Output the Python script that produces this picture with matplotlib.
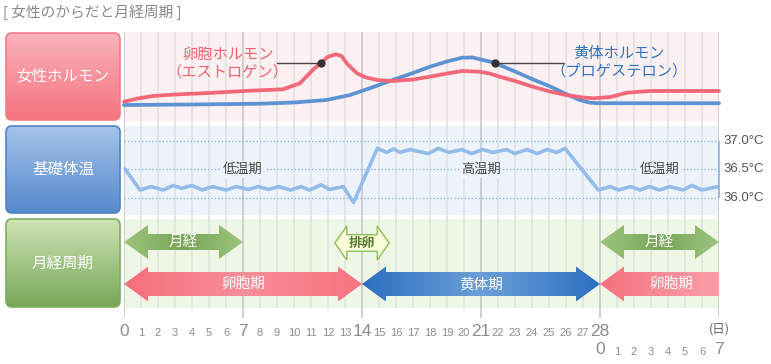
import matplotlib
matplotlib.use("Agg")
import matplotlib.pyplot as plt
import numpy as np
from matplotlib.patches import FancyBboxPatch, Polygon
from matplotlib.colors import LinearSegmentedColormap

plt.rcParams['font.family'] = ['Noto Sans CJK JP', 'DejaVu Sans']

# ---------------- data ----------------
title = "[ 女性のからだと月経周期 ]"
row_labels = ["女性ホルモン", "基礎体温", "月経周期"]

# estrogen (卵胞ホルモン) level, arbitrary units
estro_day = [0, 0.8, 1.7, 3, 5, 7.4, 9.35, 10.35, 11.1, 11.6, 12.0, 12.47, 12.8, 13.1, 13.7,
             14.2, 14.9, 15.8, 17, 18, 19, 19.9, 20.9, 21.5, 22.1, 23, 24, 25.1, 26, 27,
             27.6, 28.6, 29.6, 30.9, 35]
estro_val = [18.3, 21.5, 24, 25.5, 27, 29.3, 30.7, 36.7, 50, 57.3, 63.3, 65.7, 64, 56.7, 46.7,
             42.7, 40, 39, 40.5, 43.3, 46.5, 49, 48.3, 46.5, 43.3, 39, 33.5, 28.3, 25, 22.5,
             21.7, 23, 27.3, 29, 29]
# progesterone (黄体ホルモン) level
proge_day = [0, 4, 8, 10, 11.9, 13.3, 14.5, 15.8, 17, 18, 19, 19.9, 20.5, 21.1, 21.8, 22.1,
             23, 24, 25.1, 26, 26.8, 27.4, 28, 35]
proge_val = [15, 15.5, 16.3, 17.5, 20, 25, 32, 40, 47, 53.3, 58.5, 62.3, 62.5, 60, 57.3, 55,
             48.5, 41, 33.3, 26, 20, 17.3, 16.8, 16.8]
estro_mark = (11.6, 57.3)
proge_mark = (21.8, 57.3)

# basal body temperature
temp_day = [0.06, 0.94, 1.6, 2.3, 2.9, 3.4, 4.0, 4.6, 5.2, 6.0, 6.6, 7.3, 7.9, 8.5, 9.1, 9.8,
            10.4, 10.9, 11.6, 12.1, 12.9, 13.5, 14.9, 15.45, 15.85, 16.24, 16.82, 17.9, 18.5,
            19.1, 19.86, 20.45, 21.1, 21.7, 22.5, 23.0, 23.7, 24.3, 24.9, 25.45, 25.94, 27.9,
            28.6, 29.1, 29.8, 30.35, 30.9, 31.5, 32.1, 32.9, 33.4, 34.0, 34.96]
temp_val = [36.51, 36.14, 36.2, 36.14, 36.22, 36.17, 36.22, 36.14, 36.2, 36.14, 36.2, 36.15,
            36.2, 36.15, 36.2, 36.14, 36.2, 36.14, 36.23, 36.15, 36.2, 35.92, 36.87, 36.8,
            36.86, 36.8, 36.85, 36.78, 36.87, 36.8, 36.85, 36.78, 36.85, 36.8, 36.85, 36.78,
            36.85, 36.78, 36.85, 36.8, 36.87, 36.14, 36.2, 36.14, 36.2, 36.14, 36.2, 36.14,
            36.2, 36.14, 36.22, 36.14, 36.2]
temp_ticks = [37.0, 36.5, 36.0]
temp_tick_labels = ["37.0°C", "36.5°C", "36.0°C"]
phase_labels = ["低温期", "高温期", "低温期"]
phase_pos = [7, 21, 31.5]

# cycle phases
mens_phases = [(0, 7, "月経"), (28, 35, "月経")]
main_phases = [(0, 14, "卵胞期", "red", True, True),
               (14, 28, "黄体期", "blue", True, True),
               (28, 35, "卵胞期", "red2", True, False)]
ovulation = (12.4, 15.6, "排卵")

day_ticks = list(range(0, 29))
day_ticks2 = list(range(0, 8))

# ---------------- layout helpers ----------------
W, H = 771, 364
fig = plt.figure(figsize=(W / 100, H / 100), dpi=100)
fig.patch.set_facecolor('white')


def px_axes(x0, y0, x1, y1):
    ax = fig.add_axes([x0 / W, 1 - y1 / H, (x1 - x0) / W, (y1 - y0) / H])
    ax.set_axis_off()
    return ax


def gradient_fill(ax, patch, colors, extent, vertical=False):
    cmap = LinearSegmentedColormap.from_list("g", colors)
    g = np.linspace(0, 1, 256)
    img = g.reshape(-1, 1) if vertical else g.reshape(1, -1)
    im = ax.imshow(img, cmap=cmap, extent=extent, aspect='auto',
                   interpolation='bicubic', zorder=patch.get_zorder())
    ax.add_patch(patch)
    patch.set_facecolor('none')
    im.set_clip_path(patch)
    return im


# overlay for title and row labels
ov = px_axes(0, 0, W, H)
ov.set_xlim(0, W)
ov.set_ylim(H, 0)
ov.text(3, 12, title, fontsize=10.6, color='#8a8a8a', va='center', ha='left')

box_specs = [((33, 120), ['#f4737f', '#fab3ba'], '#f27a86'),
             ((126, 213), ['#5689cd', '#a4c4ea'], '#4f84c7'),
             ((219, 307), ['#76a756', '#cfe4b6'], '#7fae5e')]
for ((y0, y1), cols, ec), lab in zip(box_specs, row_labels):
    p = FancyBboxPatch((6, y0), 114, y1 - y0, boxstyle="round,pad=0,rounding_size=6",
                       linewidth=1.2, edgecolor=ec, zorder=2)
    gradient_fill(ov, p, cols[::-1], (6, 120, y1, y0), vertical=True)
    p.set_edgecolor(ec)
    ov.text(63, (y0 + y1) / 2, lab, fontsize=11.2, color='white', ha='center', va='center',
            zorder=3)
ov.set_xlim(0, W)
ov.set_ylim(H, 0)

# grid / background axes (x in days, y in pixels)
gx = px_axes(124, 0, 719, H)
gx.set_xlim(0, 35)
gx.set_ylim(H, 0)
gx.axhspan(32, 121, color='#fdf0f2', lw=0, zorder=0)
gx.axhspan(126, 215, color='#edf3fb', lw=0, zorder=0)
gx.axhspan(219, 308, color='#eef7e6', lw=0, zorder=0)
for d in range(0, 36):
    if d % 7 == 0:
        gx.vlines(d, 32, 318, color='#c4c4c4', lw=1.1, zorder=1)
    else:
        gx.vlines(d, 32, 308, color='#e0e0e0', lw=1.1, zorder=1)

for d in day_ticks:
    big = d % 7 == 0
    gx.text(d, 331 if big else 333, str(d), fontsize=12.5 if big else 8, color='#8c8c8c',
            ha='center', va='center', family='Liberation Sans', clip_on=False)
for d in day_ticks2:
    big = d % 7 == 0
    gx.text(28 + d, 350 if big else 352, str(d), fontsize=12.5 if big else 8, color='#8c8c8c',
            ha='center', va='center', family='Liberation Sans', clip_on=False)
gx.text(35, 329, "(日)", fontsize=9, color='#666666', ha='center', va='center')

# ---------------- top panel: hormones ----------------
top = px_axes(124, 32, 719, 120)
top.set_xlim(0, 35)
top.set_ylim(0, 88)
top.plot(estro_day, estro_val, color='#f26878', lw=2.7, solid_joinstyle='round',
         solid_capstyle='round', clip_on=False, zorder=3)
top.plot(proge_day, proge_val, color='#5b93d3', lw=2.7, solid_joinstyle='round',
         solid_capstyle='round', clip_on=False, zorder=2)
# leader lines
top.plot([9.0, estro_mark[0]], [estro_mark[1], estro_mark[1]], color='#444444', lw=1, zorder=4)
top.plot([estro_mark[0]], [estro_mark[1]], 'o', color='#333333', ms=5, zorder=5)
top.plot([proge_mark[0], 25.8], [proge_mark[1], proge_mark[1]], color='#444444', lw=1, zorder=4)
top.plot([proge_mark[0]], [proge_mark[1]], 'o', color='#333333', ms=5, zorder=5)
top.text(6.1, 66, "卵胞ホルモン", fontsize=11, color='#f0606f', ha='center', va='center')
top.text(6.1, 47.5, "（エストロゲン）", fontsize=11, color='#f0606f', ha='center', va='center')
top.text(29.1, 66.5, "黄体ホルモン", fontsize=11, color='#2f72c0', ha='center', va='center')
top.text(29.1, 48.5, "（プロゲステロン）", fontsize=11, color='#2f72c0', ha='center', va='center')

# ---------------- middle panel: temperature ----------------
mid = px_axes(124, 126, 719, 215)
mid.set_xlim(0, 35)
mid.set_ylim(35.7018, 37.263)
for t in temp_ticks:
    mid.axhline(t, color='#8fb3de', lw=1, ls=(0, (1, 1.5)), zorder=1)
mid.vlines(35, 36.0, 37.0, color='#8fb3de', lw=1.2, zorder=1, clip_on=False)
mid.plot(temp_day, temp_val, color='#93bce8', lw=2.6, solid_joinstyle='round',
         solid_capstyle='round', clip_on=False, zorder=3)
for t, lab in zip(temp_ticks, temp_tick_labels):
    mid.text(35.25, t, lab, fontsize=9.5, color='#555555', ha='left', va='center',
             family='Liberation Sans', clip_on=False)
for x, lab in zip(phase_pos, phase_labels):
    mid.text(x, 36.5, lab, fontsize=9.5, color='#444444', ha='center', va='center', zorder=4,
             bbox=dict(boxstyle='square,pad=0.15', fc='#edf3fb', ec='none'))

# ---------------- bottom panel: cycle arrows ----------------
bot = px_axes(124, 219, 719, 308)
bot.set_xlim(0, 35)
bot.set_ylim(308, 219)


def arrow_verts(x0, x1, yc, bh, hh, hl, left=True, right=True):
    v = []
    if left:
        v += [(x0, yc), (x0 + hl, yc - hh), (x0 + hl, yc - bh)]
    else:
        v += [(x0, yc + bh), (x0, yc - bh)]
    if right:
        v += [(x1 - hl, yc - bh), (x1 - hl, yc - hh), (x1, yc), (x1 - hl, yc + hh),
              (x1 - hl, yc + bh)]
    else:
        v += [(x1, yc - bh), (x1, yc + bh)]
    if left:
        v += [(x0 + hl, yc + bh), (x0 + hl, yc + hh)]
    return v


HL = 24 / 17.0
grad = {"green": ['#9cc57d', '#78a658', '#9cc57d'],
        "red": ['#f56f7d', '#f98e99', '#f7737f'],
        "blue": ['#2c70c0', '#6c9fd9', '#2c70c0'],
        "red2": ['#f56f7d', '#f98a95', '#fa9ea8']}

for x0, x1, lab in mens_phases:
    yc = 242
    p = Polygon(arrow_verts(x0, x1, yc, 8, 17, HL), closed=True, lw=0, zorder=2)
    gradient_fill(bot, p, grad["green"], (x0, x1, yc + 17, yc - 17))
    bot.text((x0 + x1) / 2, yc, lab, fontsize=10.5, color='white', ha='center', va='center',
             zorder=3)

for x0, x1, lab, key, lh, rh in main_phases:
    yc = 284
    p = Polygon(arrow_verts(x0, x1, yc, 12, 17.5, HL, lh, rh), closed=True, lw=0, zorder=2)
    gradient_fill(bot, p, grad[key], (x0, x1, yc + 17.5, yc - 17.5))
    tx = (x0 + x1) / 2 + (0.7 if not rh else 0)
    bot.text(tx, yc, lab, fontsize=10.5, color='white', ha='center', va='center', zorder=3)

ox0, ox1, olab = ovulation
p = Polygon(arrow_verts(ox0, ox1, 243, 8.3, 17, 12 / 17.0), closed=True, fc='#fbfcd8',
            ec='#8cbf5a', lw=1, zorder=3)
bot.add_patch(p)
bot.text((ox0 + ox1) / 2, 243, olab, fontsize=9.5, color='#5a7d34', ha='center', va='center',
         weight='bold', zorder=4)
bot.set_xlim(0, 35)
bot.set_ylim(308, 219)

fig.savefig("out.png", dpi=100, facecolor='white')
